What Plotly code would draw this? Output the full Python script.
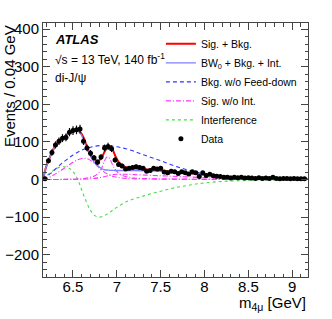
import plotly.graph_objects as go

# ---------------- data ----------------
data_x = [6.18, 6.22, 6.26, 6.30, 6.34, 6.38, 6.42, 6.46, 6.50, 6.54,
          6.58, 6.62, 6.66, 6.70, 6.74, 6.78, 6.82, 6.86, 6.90, 6.94,
          6.98, 7.02, 7.06, 7.10, 7.14, 7.18, 7.22, 7.26, 7.30, 7.34,
          7.38, 7.42, 7.46, 7.50, 7.54, 7.58, 7.62, 7.66, 7.70, 7.74,
          7.78, 7.82, 7.86, 7.90, 7.94, 7.98, 8.02, 8.06, 8.10, 8.14,
          8.18, 8.22, 8.26, 8.30, 8.34, 8.38, 8.42, 8.46, 8.50, 8.54,
          8.58, 8.62, 8.66, 8.70, 8.74, 8.78, 8.82, 8.86, 8.90, 8.94,
          8.98, 9.02, 9.06, 9.10, 9.14]
data_y = [2, 50, 72, 92, 102, 110, 112, 126, 130, 132,
          134, 102, 84, 70, 58, 46, 60, 84, 88, 82,
          52, 40, 36, 28, 30, 32, 34, 32, 30, 22,
          24, 30, 28, 30, 20, 18, 22, 21, 16, 21,
          18, 15, 21, 18, 8, 18, 11, 14, 10, 9,
          8, 6, 6, 4, 6, 5, 6, 4, 5, 4,
          3, 5, 3, 4, 3, 6, 3, 2, 3, 3,
          2, 3, 2, 2, 2]
data_err = [1.5, 7, 8.5, 9.5, 10, 10.5, 10.5, 11, 11.5, 11.5,
            11.5, 10, 9, 8.5, 7.5, 7, 7.5, 9, 9.5, 9,
            7, 6.5, 6, 5.5, 5.5, 5.5, 6, 5.5, 5.5, 4.5,
            5, 5.5, 5.5, 5.5, 4.5, 4, 4.5, 4.5, 4, 4.5,
            4, 4, 4.5, 4, 3, 4, 3.5, 3.5, 3, 3,
            3, 2.5, 2.5, 2, 2.5, 2, 2.5, 2, 2, 2,
            1.8, 2, 1.8, 2, 1.8, 2.5, 1.8, 1.5, 1.8, 1.8,
            1.5, 1.8, 1.5, 1.5, 1.5]

sigbkg_x = [6.16, 6.18, 6.20, 6.22, 6.26, 6.30, 6.34, 6.38, 6.42, 6.46,
            6.50, 6.54, 6.58, 6.62, 6.66, 6.70, 6.74, 6.78, 6.82, 6.86,
            6.90, 6.94, 6.98, 7.02, 7.06, 7.10, 7.20, 7.30, 7.40, 7.50,
            7.60, 7.70, 7.80, 7.90, 8.00, 8.20, 8.40, 8.60, 8.80, 9.00, 9.18]
sigbkg_y = [0, 22, 38, 50, 73, 90, 102, 110, 117, 124,
            129, 131, 127, 112, 86, 66, 55, 50, 56, 74,
            88, 84, 64, 47, 38, 33, 30, 28, 26, 24,
            21, 19, 17, 15, 13, 9, 6, 4, 3, 2, 1.5]

bw0_x = [6.16, 6.18, 6.20, 6.22, 6.26, 6.30, 6.34, 6.38, 6.42, 6.46,
         6.50, 6.54, 6.58, 6.62, 6.66, 6.70, 6.74, 6.78, 6.82, 6.86,
         6.90, 7.00, 7.20, 7.40, 7.50, 7.60, 7.70, 7.80, 7.90, 8.00,
         8.20, 8.40, 8.60, 8.80, 9.00, 9.18]
bw0_y = [0, 22, 38, 50, 73, 90, 102, 110, 117, 124,
         129, 130, 124, 106, 82, 62, 47, 37, 30, 26,
         25, 24, 24, 23, 22, 20.5, 19, 17, 15, 13,
         9, 6, 4, 3, 2, 1.5]

bkg_x = [6.16, 6.20, 6.25, 6.30, 6.40, 6.50, 6.60, 6.70, 6.80, 6.90,
         7.00, 7.10, 7.20, 7.30, 7.40, 7.50, 7.60, 7.70, 7.80, 7.90,
         8.00, 8.10, 8.20, 8.30, 8.50, 8.70, 9.00, 9.18]
bkg_y = [0, 8, 17, 28, 48, 65, 78, 86, 90, 90,
         87, 82, 75, 66, 58, 50, 41, 33, 26, 20,
         15, 11, 8, 6, 4, 3, 2, 1.5]

sig1_x = [6.16, 6.20, 6.25, 6.30, 6.35, 6.40, 6.45, 6.50, 6.55, 6.60,
          6.65, 6.70, 6.75, 6.80, 6.85, 6.90, 6.95, 7.00, 7.10, 7.30,
          7.60, 8.00, 8.60, 9.18]
sig1_y = [0, 3, 8, 15, 22, 30, 38, 46, 52, 56,
          56, 51, 42, 31, 21, 14, 9, 6, 3, 1.5,
          1, 0.5, 0.3, 0.2]

sig2_x = [6.16, 6.40, 6.60, 6.70, 6.75, 6.80, 6.83, 6.86, 6.88, 6.90,
          6.92, 6.95, 6.98, 7.02, 7.06, 7.10, 7.20, 7.40, 7.80, 8.40, 9.18]
sig2_y = [0, 0.5, 2, 6, 10, 20, 32, 50, 58, 60,
          55, 40, 27, 17, 11, 8, 4, 2, 1, 0.5, 0.3]

sig3_x = [6.16, 6.50, 6.70, 6.80, 6.90, 6.95, 7.00, 7.10, 7.20, 7.40,
          7.60, 7.80, 8.00, 8.30, 8.60, 9.00, 9.18]
sig3_y = [0, 0.5, 2, 5, 10, 13, 14, 14, 13, 11,
          9, 7, 5, 3, 2, 1, 1]

int_x = [6.16, 6.20, 6.25, 6.30, 6.35, 6.40, 6.45, 6.50, 6.55, 6.60,
         6.65, 6.70, 6.75, 6.80, 6.85, 6.90, 6.95, 7.00, 7.10, 7.20,
         7.30, 7.40, 7.50, 7.60, 7.70, 7.80, 7.90, 8.00, 8.20, 8.40,
         8.60, 8.80, 9.00, 9.18]
int_y = [0, 10, 20, 28, 33, 34, 31, 21, 2, -28,
         -58, -82, -96, -100, -97, -90, -82, -74, -60, -51,
         -44, -37, -31, -25, -20, -16, -12, -9, -5, -3,
         -2, -1, -0.5, 0]

x_ticks = [6.5, 7, 7.5, 8, 8.5, 9]
x_ticklabels = ["6.5", "7", "7.5", "8", "8.5", "9"]
y_ticks = [-200, -100, 0, 100, 200, 300, 400]
y_ticklabels = ["\u2212200", "\u2212100", "0", "100", "200", "300", "400"]

# ---------------- figure ----------------
FONT = "Liberation Sans, Arial, Helvetica, sans-serif"
DASHDOT = "5px,2px,1px,2px"
fig = go.Figure()

fig.add_trace(go.Scatter(x=int_x, y=int_y, mode="lines", name="Interference",
                         line=dict(color="#44dd44", width=1.1, dash="dot", shape="spline"),
                         legendrank=5))
fig.add_trace(go.Scatter(x=sig1_x, y=sig1_y, mode="lines", name="Sig. w/o Int.",
                         legendgroup="sig", legendrank=4,
                         line=dict(color="#ff33ff", width=1.1, dash=DASHDOT, shape="spline")))
fig.add_trace(go.Scatter(x=sig2_x, y=sig2_y, mode="lines", name="Sig. w/o Int.",
                         legendgroup="sig", showlegend=False,
                         line=dict(color="#ff33ff", width=1.1, dash=DASHDOT, shape="spline")))
fig.add_trace(go.Scatter(x=sig3_x, y=sig3_y, mode="lines", name="Sig. w/o Int.",
                         legendgroup="sig", showlegend=False,
                         line=dict(color="#ff33ff", width=1.1, dash=DASHDOT, shape="spline")))
fig.add_trace(go.Scatter(x=bkg_x, y=bkg_y, mode="lines", name="Bkg. w/o Feed-down",
                         legendrank=3,
                         line=dict(color="#3333ff", width=1.1, dash="4px,3px", shape="spline")))
fig.add_trace(go.Scatter(x=sigbkg_x, y=sigbkg_y, mode="lines", name="Sig. + Bkg.",
                         legendrank=1,
                         line=dict(color="#ff0000", width=2, shape="spline")))
fig.add_trace(go.Scatter(x=bw0_x, y=bw0_y, mode="lines", name="BW<sub>0</sub> + Bkg. + Int.",
                         legendrank=2,
                         line=dict(color="#7f7fff", width=1.4, shape="spline")))
fig.add_trace(go.Scatter(x=data_x, y=data_y, mode="markers", name="Data",
                         legendrank=6,
                         marker=dict(color="black", size=5),
                         error_y=dict(type="data", array=data_err, color="black",
                                      thickness=1.2, width=0),
                         error_x=dict(type="constant", value=0.02, color="black",
                                      thickness=1.2, width=0)))

axis_common = dict(showline=True, linecolor="#444444", linewidth=1, mirror="allticks",
                   ticks="inside", tickcolor="#444444", ticklen=7, tickwidth=1,
                   showgrid=False, zeroline=False, automargin=False,
                   tickfont=dict(size=15, family=FONT, color="black"))

fig.update_xaxes(range=[6.158, 9.18], tickvals=x_ticks, ticktext=x_ticklabels,
                 ticklabelstandoff=-4,
                 minor=dict(ticks="inside", ticklen=3.5, dtick=0.1, tick0=6.5,
                            tickcolor="#444444", showgrid=False),
                 **axis_common)
fig.update_yaxes(range=[-259, 416], tickvals=y_ticks, ticktext=y_ticklabels,
                 minor=dict(ticks="inside", ticklen=3.5, dtick=20, tick0=0,
                            tickcolor="#444444", showgrid=False),
                 **axis_common)

fig.update_layout(
    template="none",
    width=332, height=319,
    margin=dict(l=43, r=24, t=23, b=42, pad=0, autoexpand=False),
    paper_bgcolor="white", plot_bgcolor="white",
    font=dict(family=FONT, size=15, color="black"),
    hovermode=False,
    showlegend=True,
    legend=dict(x=0.445, y=0.975, xanchor="left", yanchor="top",
                font=dict(size=10.5, family=FONT), bgcolor="rgba(0,0,0,0)",
                borderwidth=0, tracegroupgap=0, itemwidth=30),
    annotations=[
        dict(text="<b><i>ATLAS</i></b>", x=0.038, y=0.935, xref="paper", yref="paper",
             xanchor="left", yanchor="middle", showarrow=False, font=dict(size=13)),
        dict(text="\u221as = 13 TeV, 140 fb<sup>-1</sup>", x=0.038, y=0.858,
             xref="paper", yref="paper", xanchor="left", yanchor="middle",
             showarrow=False, font=dict(size=12)),
        dict(text="di-J/\u03c8", x=0.038, y=0.783, xref="paper", yref="paper",
             xanchor="left", yanchor="middle", showarrow=False, font=dict(size=12)),
        dict(text="Events / 0.04 GeV", x=-0.128, y=1.0, xref="paper", yref="paper",
             xanchor="center", yanchor="top", textangle=-90, showarrow=False,
             font=dict(size=15)),
        dict(text="m<sub>4\u03bc</sub> [GeV]", x=1.0, y=-0.106, xref="paper", yref="paper",
             xanchor="right", yanchor="middle", showarrow=False, font=dict(size=15)),
    ],
)

fig.write_html("out.html",
               config={"displayModeBar": False, "staticPlot": True},
               post_script="document.body.style.margin='0px';document.body.style.padding='0px';")
